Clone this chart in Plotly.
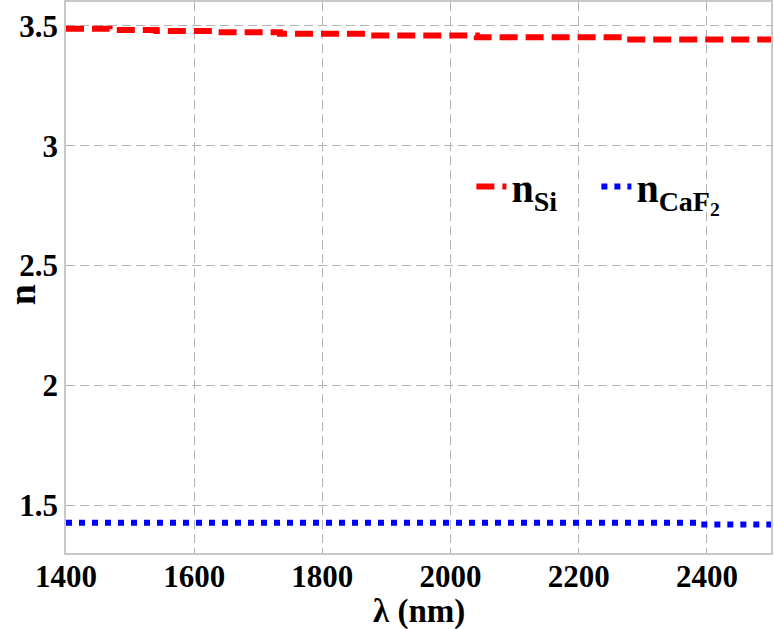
import plotly.graph_objects as go

# Refractive index data, stepped tables
wl_si = [1400, 1468, 1541, 1629, 1734, 1871, 2041, 2268, 2500]
n_si = [3.488, 3.483, 3.479, 3.474, 3.467, 3.460, 3.453, 3.443, 3.443]

wl_caf2 = [1400, 2386, 2500]
n_caf2 = [1.426, 1.419, 1.419]

x_ticks = [1400, 1600, 1800, 2000, 2200, 2400]
y_ticks = [1.5, 2, 2.5, 3, 3.5]
y_ticktext = ["1.5", "2", "2.5", "3", "3.5"]

font_family = "Liberation Serif"
bold_font = dict(family=font_family, color="black", weight="bold")

trace_si = go.Scatter(x=wl_si, y=n_si, mode="lines", line_shape="hv",
                      name="n<sub>Si</sub>",
                      line=dict(color="#ff0000", width=6, dash="18px,8px"))
trace_caf2 = go.Scatter(x=wl_caf2, y=n_caf2, mode="lines", line_shape="hv",
                        name="n<sub>CaF<sub>2</sub></sub>",
                        line=dict(color="#0000ff", width=6, dash="6px,7px"))

axis_common = dict(showgrid=True, gridcolor="#b4b4b4", griddash="9px,5px",
                   gridwidth=1, zeroline=False, showline=True,
                   linecolor="#c8c8c8", linewidth=1.5, mirror=True,
                   ticks="", automargin=False,
                   tickfont=dict(size=31, **bold_font))

layout = go.Layout(
    width=774, height=629,
    margin=dict(l=66, r=3, t=2, b=76),
    paper_bgcolor="white", plot_bgcolor="white",
    xaxis=dict(range=[1400, 2500], tickvals=x_ticks, ticklabelstandoff=-5,
               **axis_common),
    yaxis=dict(range=[1.3, 3.6], tickvals=y_ticks, ticktext=y_ticktext,
               **axis_common),
    annotations=[
        dict(text="λ (nm)", xref="paper", yref="paper", x=0.5, y=-0.106,
             xanchor="center", yanchor="middle", showarrow=False,
             font=dict(size=33, **bold_font)),
        dict(text="n", xref="paper", yref="paper", x=-0.0624, y=0.468,
             xanchor="center", yanchor="middle", showarrow=False,
             textangle=-90, font=dict(size=38, **bold_font)),
    ],
    showlegend=True,
    legend=dict(orientation="h", x=0.575, y=0.665, xanchor="left",
                yanchor="middle", bgcolor="rgba(0,0,0,0)",
                entrywidth=80,
                font=dict(size=40, **bold_font)),
)

fig = go.Figure(data=[trace_si, trace_caf2], layout=layout)
# remove the default page margin so the figure fills the window exactly
fig.write_html("out.html", config={"displayModeBar": False},
               post_script="document.body.style.margin='0';")
